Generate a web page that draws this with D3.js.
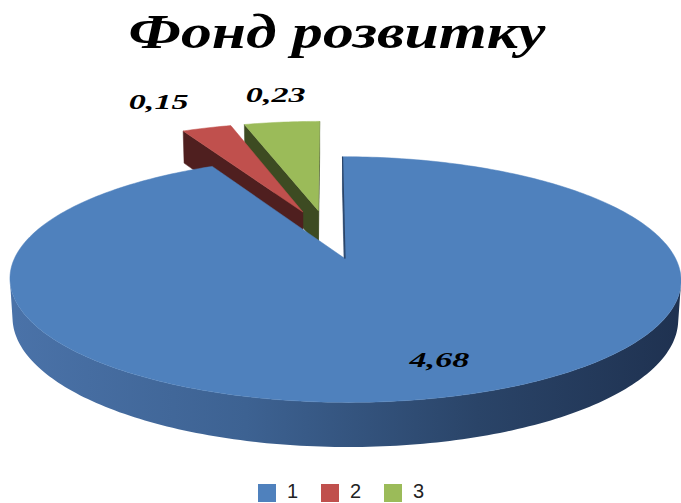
<!DOCTYPE html>
<html>
<head>
<meta charset="utf-8">
<script src="https://cdn.jsdelivr.net/npm/d3@7"></script>
<style>
  body { margin: 0; background: #fff; }
  svg { display: block; }
</style>
</head>
<body>
<div id="chart"></div>
<script>
// chart data
var title = "Фонд розвитку";
var categories = ["1", "2", "3"];
var values = [4.68, 0.15, 0.23];
var valueLabels = ["4,68", "0,15", "0,23"];

var width = 681, height = 503;

// colours: top face, radial cut face, outer wall (light -> dark)
var topColors = ["#4f81bd", "#c0504d", "#9bbb59"];
var cutColors = ["#2a4468", "#4f1f1f", "#3d4b22"];
var wallColors = [
  ["#4a72a8", "#3d6292", "#2a4468", "#1f3251"],
  ["#a04340", "#8a3a37", "#5e2624", "#4a1d1c"],
  ["#84a04b", "#728a41", "#4d5d2c", "#3c4922"]
];

// 3d projection settings
var cx = 328, cy = 234, scale = 319;
var sinP = 0.348, cosP = Math.sqrt(1 - sinP * sinP);
var dist = 5.7;        // camera distance (perspective)
var thick = 0.125;     // pie height
var explode = 0.22;    // explode distance

function proj(p) {
  var u = p[1] * cosP - p[2] * sinP;
  var w = p[1] * sinP + p[2] * cosP;
  var k = dist / (dist - w);
  return [cx + scale * p[0] * k, cy - scale * u * k];
}
var cam = [0, dist * sinP, dist * cosP];

var svg = d3.select("#chart").append("svg")
    .attr("width", width)
    .attr("height", height);
var defs = svg.append("defs");

svg.append("text")
    .attr("x", 337)
    .attr("y", 48)
    .attr("text-anchor", "middle")
    .attr("font-family", "Liberation Serif, Times New Roman, serif")
    .attr("font-weight", "bold")
    .attr("font-style", "italic")
    .attr("font-size", 48)
    .attr("textLength", 417)
    .attr("lengthAdjust", "spacingAndGlyphs")
    .text(title);

var pie = d3.pie().sort(null).value(function(d) { return d; });
var arcs = pie(values);

var line = d3.line();
function poly(pts) { return line(pts) + "Z"; }

function visible(normal, p) {
  var dx = cam[0] - p[0], dy = cam[1] - p[1], dz = cam[2] - p[2];
  return normal[0] * dx + normal[1] * dy + normal[2] * dz > 0;
}

arcs.forEach(function(a, i) {
  var mid = (a.startAngle + a.endAngle) / 2;
  a.index = i;
  a.ox = explode * Math.sin(mid);
  a.oz = -explode * Math.cos(mid);
  a.mid = mid;
});

var order = arcs.slice().sort(function(a, b) { return a.oz - b.oz; });
var g = svg.append("g");

order.forEach(function(a) {
  var i = a.index;
  var sg = g.append("g").attr("class", "slice");
  var n = Math.max(2, Math.ceil((a.endAngle - a.startAngle) / (Math.PI / 180)));
  var angles = d3.range(n + 1).map(function(j) {
    return a.startAngle + (a.endAngle - a.startAngle) * j / n;
  });
  function pt(t, y) { return [a.ox + Math.sin(t), y, a.oz - Math.cos(t)]; }

  // radial cut faces
  var faces = [
    { t: a.startAngle, n: [-Math.cos(a.startAngle), 0, -Math.sin(a.startAngle)] },
    { t: a.endAngle, n: [Math.cos(a.endAngle), 0, Math.sin(a.endAngle)] }
  ];
  faces.forEach(function(f) {
    var c0 = [a.ox, 0, a.oz], o0 = pt(f.t, 0);
    var mp = [(c0[0] + o0[0]) / 2, -thick / 2, (c0[2] + o0[2]) / 2];
    if (!visible(f.n, mp)) return;
    var pts = [c0, o0, pt(f.t, -thick), [a.ox, -thick, a.oz]].map(proj);
    sg.append("path").attr("d", poly(pts))
      .attr("fill", cutColors[i]).attr("stroke", cutColors[i]).attr("stroke-width", 0.5);
  });

  // outer wall: group visible segments into runs, one gradient-filled path per run
  var runs = [], cur = null;
  for (var j = 0; j < n; j++) {
    var tm = (angles[j] + angles[j + 1]) / 2;
    var vis = visible([Math.sin(tm), 0, -Math.cos(tm)], pt(tm, -thick / 2));
    if (vis) {
      if (!cur) { cur = [angles[j]]; runs.push(cur); }
      cur.push(angles[j + 1]);
    } else cur = null;
  }
  runs.forEach(function(run, r) {
    var topPts = run.map(function(t) { return proj(pt(t, 0)); });
    var botPts = run.map(function(t) { return proj(pt(t, -thick)); }).reverse();
    var gid = "wall" + i + "_" + r;
    var grad = defs.append("linearGradient")
        .attr("id", gid)
        .attr("gradientUnits", "userSpaceOnUse")
        .attr("x1", proj(pt(-Math.PI / 2, 0))[0]).attr("y1", 0)
        .attr("x2", proj(pt(Math.PI / 2, 0))[0]).attr("y2", 0);
    grad.selectAll("stop")
        .data(wallColors[i])
      .enter().append("stop")
        .attr("offset", function(d, k) { return [0, 0.35, 0.7, 1][k]; })
        .attr("stop-color", function(d) { return d; });
    sg.append("path").attr("d", poly(topPts.concat(botPts)))
      .attr("fill", "url(#" + gid + ")");
  });

  // top face
  var top = [proj([a.ox, 0, a.oz])].concat(angles.map(function(t) { return proj(pt(t, 0)); }));
  sg.append("path").attr("d", poly(top))
    .attr("fill", topColors[i]).attr("stroke", topColors[i]).attr("stroke-width", 0.5);

  // thin edge along the first radial cut (seen edge-on)
  if (i === 0) {
    sg.append("path")
      .attr("d", line([proj([a.ox, 0, a.oz]), proj(pt(a.startAngle, 0))]))
      .attr("stroke", cutColors[i]).attr("stroke-width", 1.2).attr("fill", "none");
  }
});

// data labels
var labelFont = "Liberation Serif, Times New Roman, serif";
arcs.forEach(function(a, i) {
  var big = (a.endAngle - a.startAngle) > Math.PI;
  var r = big ? 0.78 : 1.3;
  var t0 = big ? a.mid - 0.07 : a.mid;
  var p = proj([a.ox + r * Math.sin(t0), 0, a.oz - r * Math.cos(t0)]);
  var anchor = (!big && Math.sin(a.mid) < -0.3) ? "end" : "middle";
  var t = svg.append("text")
      .attr("x", p[0] + (anchor === "end" ? 6 : 3))
      .attr("y", p[1] + (big ? 7 : 2))
      .attr("text-anchor", anchor)
      .attr("font-family", labelFont)
      .attr("font-weight", "bold")
      .attr("font-style", "italic")
      .attr("font-size", 22)
      .attr("fill", "#000")
      .text(valueLabels[i]);
  var w = t.node().getComputedTextLength();
  t.attr("textLength", w * 1.55).attr("lengthAdjust", "spacingAndGlyphs");
});

// legend
var legendX = d3.scalePoint().domain(categories).range([258, 384]);
var legend = svg.append("g").selectAll("g")
    .data(categories)
  .enter().append("g")
    .attr("transform", function(d) { return "translate(" + legendX(d) + ",484)"; });
legend.append("rect")
    .attr("width", 18)
    .attr("height", 18)
    .attr("fill", function(d, i) { return topColors[i]; });
legend.append("text")
    .attr("x", 29)
    .attr("y", 14)
    .attr("font-family", "Liberation Sans, Arial, sans-serif")
    .attr("font-size", 20)
    .attr("fill", "#222")
    .text(function(d) { return d; });
</script>
</body>
</html>
